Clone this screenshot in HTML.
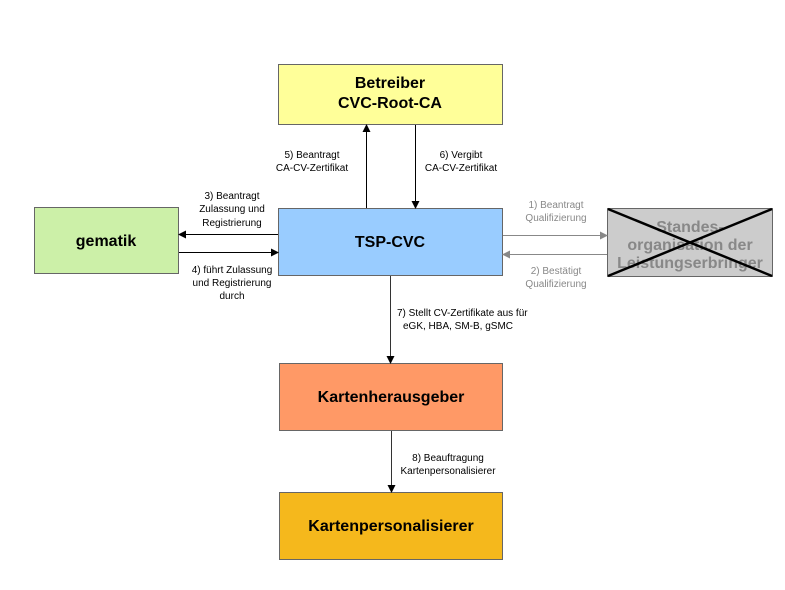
<!DOCTYPE html>
<html><head><meta charset="utf-8"><style>
html,body{margin:0;padding:0;background:#fff}
svg{display:block}
text{font-family:"Liberation Sans",sans-serif}
.b{font-weight:bold;font-size:16px;fill:#000}
.s{font-size:10px;fill:#000}
.g{font-size:10px;fill:#888}
</style></head><body>
<svg width="785" height="590" viewBox="0 0 785 590" xmlns="http://www.w3.org/2000/svg">
<defs>
<marker id="a" markerWidth="8" markerHeight="8" refX="7" refY="4" orient="auto" markerUnits="userSpaceOnUse"><path d="M0,0 L8,4 L0,8z" fill="#000"/></marker>
<marker id="ag" markerWidth="8" markerHeight="8" refX="7" refY="4" orient="auto" markerUnits="userSpaceOnUse"><path d="M0,0 L8,4 L0,8z" fill="#888"/></marker>
</defs>
<rect x="278.5" y="64.5" width="224" height="60" fill="#ffff99" stroke="#666"/>
<text class="b" x="390" y="88" text-anchor="middle">Betreiber</text>
<text class="b" x="390" y="108" text-anchor="middle">CVC-Root-CA</text>
<rect x="278.5" y="208.5" width="224" height="67" fill="#99ccff" stroke="#666"/>
<text class="b" x="390" y="247" text-anchor="middle">TSP-CVC</text>
<rect x="34.5" y="207.5" width="144" height="66" fill="#ccf0a8" stroke="#666"/>
<text class="b" x="106" y="246" text-anchor="middle">gematik</text>
<rect x="607.5" y="208.5" width="165" height="68" fill="#cccccc" stroke="#666"/>
<text class="b" x="690" y="232" text-anchor="middle" style="fill:#888">Standes-</text>
<text class="b" x="690" y="250" text-anchor="middle" style="fill:#888">organisation der</text>
<text class="b" x="690" y="268" text-anchor="middle" style="fill:#888">Leistungserbringer</text>
<line x1="608" y1="209" x2="772" y2="276" stroke="#000" stroke-width="2.5"/>
<line x1="772" y1="209" x2="608" y2="276" stroke="#000" stroke-width="2.5"/>
<rect x="279.5" y="363.5" width="223" height="67" fill="#ff9966" stroke="#666"/>
<text class="b" x="391" y="402" text-anchor="middle">Kartenherausgeber</text>
<rect x="279.5" y="492.5" width="223" height="67" fill="#f5b81c" stroke="#666"/>
<text class="b" x="391" y="531" text-anchor="middle">Kartenpersonalisierer</text>
<line x1="366.5" y1="208" x2="366.5" y2="125" stroke="#000" marker-end="url(#a)"/>
<line x1="415.5" y1="125" x2="415.5" y2="208" stroke="#000" marker-end="url(#a)"/>
<line x1="278" y1="234.5" x2="179" y2="234.5" stroke="#000" marker-end="url(#a)"/>
<line x1="179" y1="252.5" x2="278" y2="252.5" stroke="#000" marker-end="url(#a)"/>
<line x1="503" y1="235.5" x2="607" y2="235.5" stroke="#888" marker-end="url(#ag)"/>
<line x1="607" y1="254.5" x2="503" y2="254.5" stroke="#888" marker-end="url(#ag)"/>
<line x1="390.5" y1="276" x2="390.5" y2="363" stroke="#333" marker-end="url(#a)"/>
<line x1="391.5" y1="431" x2="391.5" y2="492" stroke="#333" marker-end="url(#a)"/>
<text class="s" x="312" y="158" text-anchor="middle">5) Beantragt</text>
<text class="s" x="312" y="171" text-anchor="middle">CA-CV-Zertifikat</text>
<text class="s" x="461" y="158" text-anchor="middle">6) Vergibt</text>
<text class="s" x="461" y="171" text-anchor="middle">CA-CV-Zertifikat</text>
<text class="s" x="232" y="199" text-anchor="middle">3) Beantragt</text>
<text class="s" x="232" y="212" text-anchor="middle">Zulassung und</text>
<text class="s" x="232" y="226" text-anchor="middle">Registrierung</text>
<text class="s" x="232" y="273" text-anchor="middle">4) führt Zulassung</text>
<text class="s" x="232" y="286" text-anchor="middle">und Registrierung</text>
<text class="s" x="232" y="299" text-anchor="middle">durch</text>
<text class="g" x="556" y="208" text-anchor="middle">1) Beantragt</text>
<text class="g" x="556" y="221" text-anchor="middle">Qualifizierung</text>
<text class="g" x="556" y="274" text-anchor="middle">2) Bestätigt</text>
<text class="g" x="556" y="287" text-anchor="middle">Qualifizierung</text>
<text class="s" x="397" y="316">7) Stellt CV-Zertifikate aus für</text>
<text class="s" x="458" y="329" text-anchor="middle">eGK, HBA, SM-B, gSMC</text>
<text class="s" x="448" y="461" text-anchor="middle">8) Beauftragung</text>
<text class="s" x="448" y="474" text-anchor="middle">Kartenpersonalisierer</text>
</svg>
</body></html>
